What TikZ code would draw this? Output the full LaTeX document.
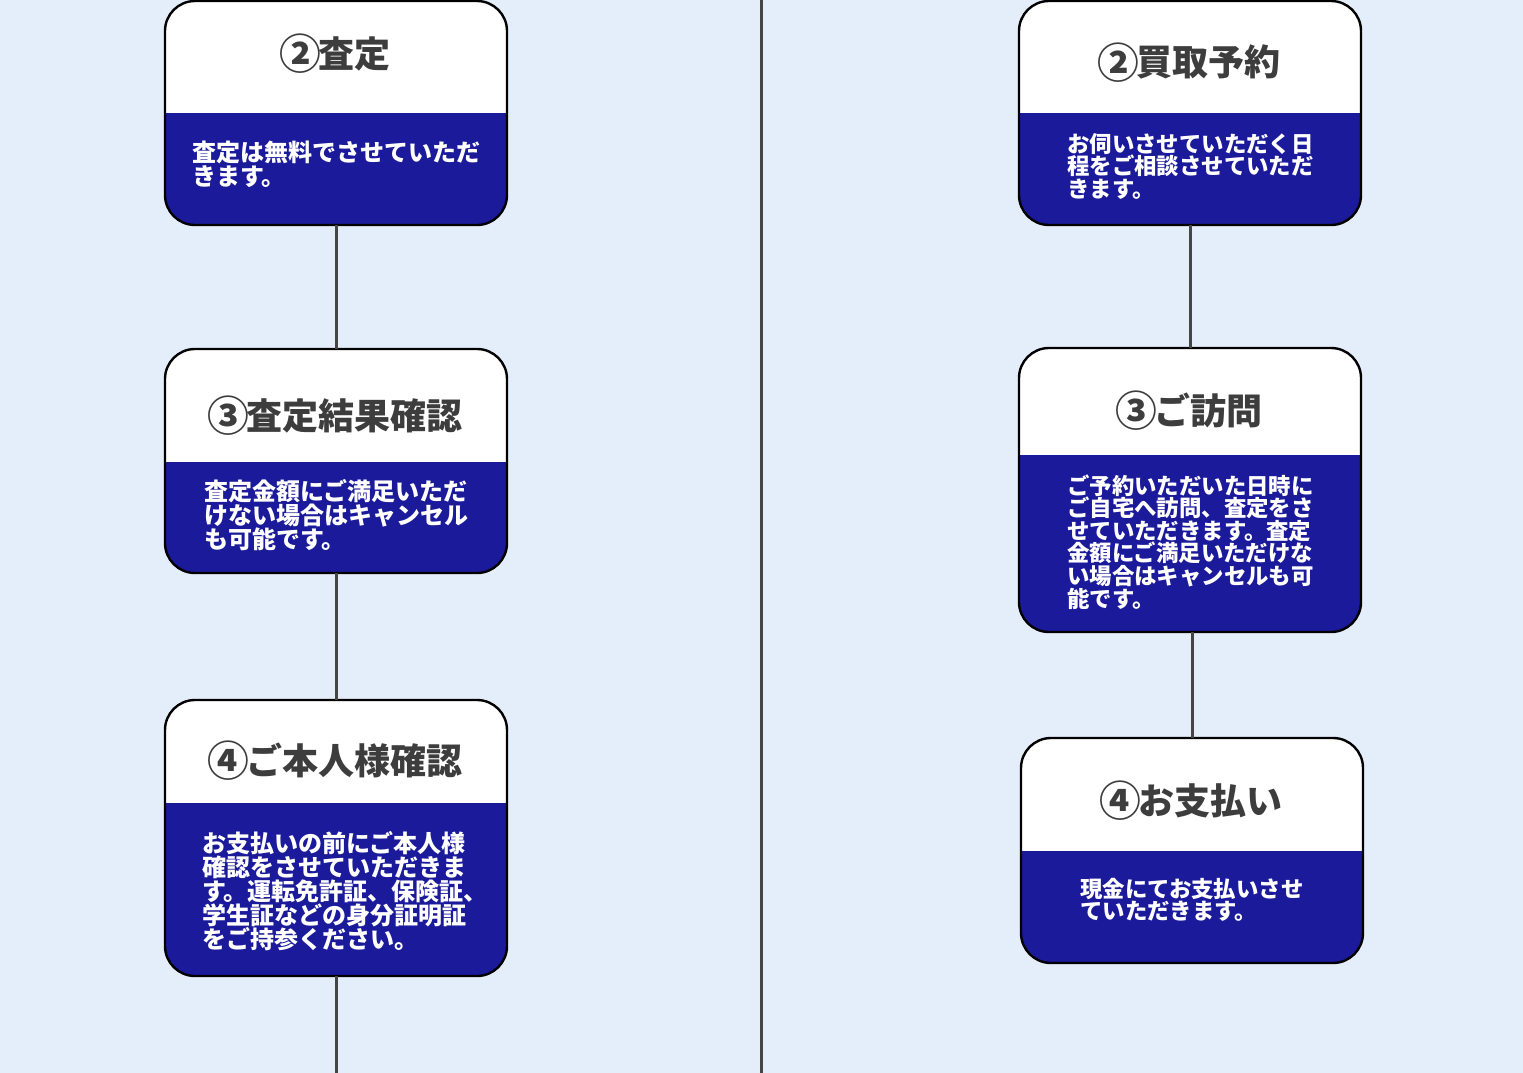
\documentclass[tikz,border=0pt]{standalone}
\usepackage{fontspec}
\usepackage{graphicx}
\setmainfont{Noto Sans CJK JP}
\newfontfamily\jpfont{Noto Sans CJK JP}
\definecolor{bgblue}{HTML}{E4EEFB}
\definecolor{cardblue}{HTML}{1B1A9B}
\definecolor{titlegray}{HTML}{3D3D3D}
\definecolor{linegray}{HTML}{454545}
\newcommand\bodylines[2]{\vtop{\baselineskip=#1\lineskiplimit=-1000pt\lineskip=0pt\halign{##\hfil\cr#2\crcr}}}
\newcommand\circnum[1]{\makebox[1.04em]{\raisebox{-0.07em}{\scalebox{1.16}{#1}}}}
\tikzset{
  card/.style={draw=black, line width=2.4pt, rounded corners=30pt, fill=cardblue,
    minimum width=342pt, inner sep=0pt, outer sep=0pt, anchor=north west,
    path picture={\fill[white, sharp corners] (path picture bounding box.north west) rectangle ([yshift=-#1]path picture bounding box.north east);}},
  cardtitle/.style={anchor=base, inner sep=0pt, text=titlegray, font=\jpfont\bfseries\fontsize{36}{36}\selectfont},
  bodyL/.style={anchor=base west, inner sep=0pt, text=white, font=\jpfont\bfseries\fontsize{24}{24}\selectfont},
  bodyR/.style={anchor=base west, inner sep=0pt, text=white, font=\jpfont\bfseries\fontsize{22.4}{22.4}\selectfont},
  conn/.style={draw=linegray, line width=3pt},
}
\begin{document}
\begin{tikzpicture}[x=1pt,y=-1pt]
\fill[bgblue] (0,0) rectangle (1523,1073);
\useasboundingbox (0,0) rectangle (1523,1073);

% divider
\coordinate (dtop) at (761,0);
\coordinate (dbot) at (761,1073);
\draw[conn] (dtop) -- (dbot);

% left column
\node[card=112pt, minimum height=224pt] (L2) at (165,1) {};
\node[card=113pt, minimum height=224pt] (L3) at (165,349) {};
\node[card=103pt, minimum height=276pt] (L4) at (165,700) {};
\coordinate (Lend) at (L4.south |- dbot);

% right column
\node[card=112pt, minimum height=224pt] (R2) at (1019,1) {};
\node[card=107pt, minimum height=284pt] (R3) at (1019,348) {};
\node[card=113pt, minimum height=225pt] (R4) at (1021,738) {};

% connectors
\draw[conn] (L2.south) -- (L3.north);
\draw[conn] (L3.south) -- (L4.north);
\draw[conn] (L4.south) -- (Lend);
\draw[conn] (R2.south) -- (R3.north);
\draw[conn] (R4.north |- R3.south) -- (R4.north);

% titles
\node[cardtitle] (tL2) at (336,67) {\circnum{②}査定};
\node[cardtitle] (tL3) at (336,429) {\circnum{③}査定結果確認};
\node[cardtitle] (tL4) at (336,774) {\circnum{④}ご本人様確認};
\node[cardtitle] (tR2) at (1190,76) {\circnum{②}買取予約};
\node[cardtitle] (tR3) at (1190,424) {\circnum{③}ご訪問};
\node[cardtitle] (tR4) at (1192,814) {\circnum{④}お支払い};

% bodies
\node[bodyL] (bL2) at (192,161.5) {\bodylines{24.4pt}{査定は無料でさせていただ\cr きます。}};
\node[bodyL] (bL3) at (204,500) {\bodylines{24.2pt}{査定金額にご満足いただ\cr けない場合はキャンセル\cr も可能です。}};
\node[bodyL] (bL4) at (202,852) {\bodylines{24.2pt}{お支払いの前にご本人様\cr 確認をさせていただきま\cr す。運転免許証、保険証、\cr 学生証などの身分証明証\cr をご持参ください。}};
\node[bodyR] (bR2) at (1067,152.5) {\bodylines{22.3pt}{お伺いさせていただく日\cr 程をご相談させていただ\cr きます。}};
\node[bodyR] (bR3) at (1067,494) {\bodylines{22.6pt}{ご予約いただいた日時に\cr ご自宅へ訪問、査定をさ\cr せていただきます。査定\cr 金額にご満足いただけな\cr い場合はキャンセルも可\cr 能です。}};
\node[bodyR] (bR4) at (1080,897.5) {\bodylines{22.3pt}{現金にてお支払いさせ\cr ていただきます。}};
\end{tikzpicture}
\end{document}
